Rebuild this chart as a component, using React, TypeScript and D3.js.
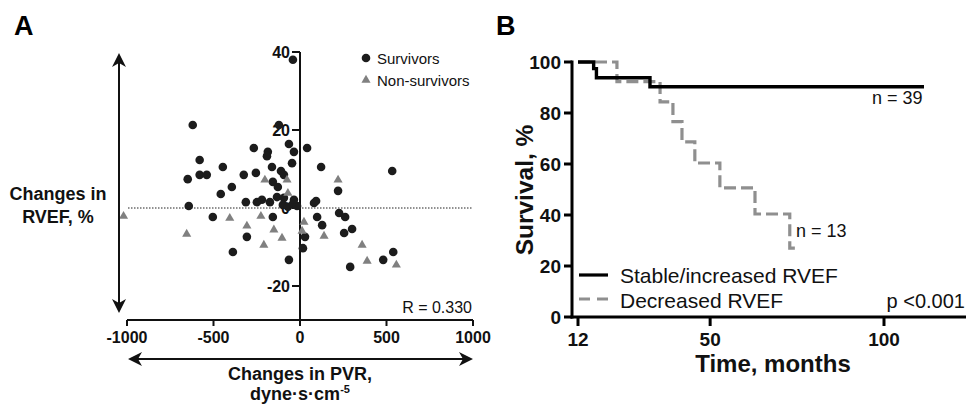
import React from 'react';
import * as d3 from 'd3';

// ---------- Panel A data ----------
const survivorsX = [-620, -122, -580, -649, -580, -539, -446, -267, -186, -191, -64, -35, 41, -46, 122, -162, -110, -93, -325, -255, -157, -128, -394, -458, -313, -249, -220, -174, -133, -93, -643, -504, -157, -307, -388, -64, 29, 17, 99, 128, 81, 93, 226, 261, 255, 301, 290, 481, 539, 533, 220, -41, -99, -70, -41, -17, -35];
const survivorsY = [21.3, 21.3, 12.3, 7.4, 8.5, 8.5, 10.5, 15.4, 14.4, 13.3, 16.4, 14.4, 15.4, 11.5, 10.5, 10.5, 9.5, 8.5, 8.5, 9.0, 6.7, 5.4, 5.4, 3.6, 1.5, 1.5, 2.1, 1.5, 2.8, 2.6, 0.5, -2.3, -2.3, -7.4, -11.3, -13.3, -7.4, -10.3, -2.3, -4.4, 1.3, 1.8, -1.3, -2.3, -6.4, -5.4, -15.1, -13.3, -11.3, 9.5, 4.4, 38.0, 0.8, 0.3, 1.0, 0.5, 2.1];
const nonSurvivorsX = [-1020, -655, -406, -307, -226, -151, -104, -209, -203, -75, -70, 23, 12, 139, 220, 359, 388, 557];
const nonSurvivorsY = [-2.1, -6.7, -2.6, -4.6, -2.1, -5.6, -7.7, -9.5, 7.2, 7.2, 3.8, -3.6, -5.9, -7.2, 7.2, -9.5, -13.6, -14.6];
const xTicksA = [-1000, -500, 0, 500, 1000];
const yTicksA = [-20, 0, 20, 40];
const correlationLabel = 'R = 0.330';

// ---------- Panel B data ----------
const stableTimes = [12, 16.5, 17.3, 32.7, 111.5];
const stableSurvival = [100, 97.4, 93.8, 90.3, 90.3];
const decreasedTimes = [12, 23.2, 35.6, 39.3, 41.9, 45.6, 52.8, 62.9, 72.9, 75.3];
const decreasedSurvival = [100, 92.3, 84.4, 76.6, 68.7, 60.4, 50.6, 40.4, 27.0, 27.0];
const xTicksB = [12, 50, 100];
const yTicksB = [0, 20, 40, 60, 80, 100];

const FONT = "'Liberation Sans', Arial, Helvetica, sans-serif";

export default function App() {
  // Panel A scales
  const xA = d3.scaleLinear().domain([-1000, 1000]).range([127, 473]);
  const yA = d3.scaleLinear().domain([-20, 40]).range([286, 52]);
  const axisYA = 320;
  const tri = d3.symbol().type(d3.symbolTriangle).size(36)() as string;

  // Panel B scales
  const xB = d3.scaleLinear().domain([12, 100]).range([578, 884]);
  const yB = d3.scaleLinear().domain([0, 100]).range([317, 62]);
  const line = d3
    .line<[number, number]>()
    .x((d) => xB(d[0]))
    .y((d) => yB(d[1]))
    .curve(d3.curveStepAfter);
  const stablePath = line(stableTimes.map((t, i) => [t, stableSurvival[i]])) as string;
  const decreasedPath = line(decreasedTimes.map((t, i) => [t, decreasedSurvival[i]])) as string;

  const survivors = survivorsX.map((x, i) => [x, survivorsY[i]]);
  const nonSurvivors = nonSurvivorsX.map((x, i) => [x, nonSurvivorsY[i]]);

  return (
    <svg
      width={966}
      height={404}
      style={{ position: 'absolute', left: 0, top: 0, background: '#fff' }}
      fontFamily={FONT}
    >
      {/* Panel labels */}
      <text x={14} y={35} fontSize={27} fontWeight="bold">A</text>
      <text x={496} y={35} fontSize={27} fontWeight="bold">B</text>

      {/* ---------------- Panel A ---------------- */}
      {/* zero reference dotted line */}
      <line x1={128} x2={473} y1={yA(0)} y2={yA(0)} stroke="#222" strokeWidth={1} strokeDasharray="1.5,1.5" />

      {/* x axis */}
      <line x1={xA(-1000)} x2={xA(1000)} y1={axisYA} y2={axisYA} stroke="#111" strokeWidth={2} />
      {xTicksA.map((t) => (
        <g key={'xa' + t}>
          <line x1={xA(t)} x2={xA(t)} y1={axisYA} y2={axisYA + 6} stroke="#111" strokeWidth={2} />
          <text x={xA(t)} y={axisYA + 23} textAnchor="middle" fontSize={16} fontWeight="bold" fill="#111">{t}</text>
        </g>
      ))}

      {/* y axis */}
      <line x1={xA(0)} x2={xA(0)} y1={yA(40)} y2={axisYA} stroke="#111" strokeWidth={2} />
      {yTicksA.map((t) => (
        <g key={'ya' + t}>
          <line x1={xA(0) - 8} x2={xA(0)} y1={yA(t)} y2={yA(t)} stroke="#111" strokeWidth={2} />
          <text x={xA(0) - 10} y={yA(t)} dy="0.36em" textAnchor="end" fontSize={16} fontWeight="bold" fill="#111">{t}</text>
        </g>
      ))}

      {/* points */}
      {survivors.map((d, i) => (
        <circle key={'s' + i} cx={xA(d[0])} cy={yA(d[1])} r={4.3} fill="#1c1c1c" />
      ))}
      {nonSurvivors.map((d, i) => (
        <path key={'n' + i} d={tri} transform={`translate(${xA(d[0])},${yA(d[1])})`} fill="#808080" />
      ))}

      {/* legend A */}
      <circle cx={366} cy={58} r={4.3} fill="#1c1c1c" />
      <text x={377} y={63.5} fontSize={15} fill="#111">Survivors</text>
      <path d={tri} transform="translate(366,80)" fill="#808080" />
      <text x={377} y={85.5} fontSize={15} fill="#111">Non-survivors</text>

      <text x={472} y={313} textAnchor="end" fontSize={16} fill="#111">{correlationLabel}</text>

      {/* vertical double arrow */}
      <line x1={119} x2={119} y1={60} y2={306} stroke="#111" strokeWidth={2} />
      <path d="M119,53 L112,67 L119,63 L126,67 Z" fill="#111" />
      <path d="M119,313 L112,299 L119,303 L126,299 Z" fill="#111" />
      {/* horizontal double arrow */}
      <line x1={135} x2={466} y1={359} y2={359} stroke="#111" strokeWidth={2} />
      <path d="M128,359 L142,352 L138,359 L142,366 Z" fill="#111" />
      <path d="M473,359 L459,352 L463,359 L459,366 Z" fill="#111" />

      {/* axis titles A */}
      <text x={58} y={200} textAnchor="middle" fontSize={18} fontWeight="bold" fill="#111">Changes in</text>
      <text x={58} y={223} textAnchor="middle" fontSize={18} fontWeight="bold" fill="#111">RVEF, %</text>
      <text x={300} y={380} textAnchor="middle" fontSize={18} fontWeight="bold" fill="#111">Changes in PVR,</text>
      <text x={300} y={400} textAnchor="middle" fontSize={18} fontWeight="bold" fill="#111">
        dyne·s·cm<tspan dy={-7} fontSize={11}>-5</tspan>
      </text>

      {/* ---------------- Panel B ---------------- */}
      <path d={decreasedPath} fill="none" stroke="#8f8f8f" strokeWidth={3.2} strokeDasharray="12,5" />
      <path d={stablePath} fill="none" stroke="#000" strokeWidth={3.4} />

      {/* axes B */}
      <line x1={572} x2={572} y1={yB(100) - 1.5} y2={yB(0) + 1.5} stroke="#000" strokeWidth={3} />
      <line x1={570.5} x2={966} y1={yB(0)} y2={yB(0)} stroke="#000" strokeWidth={3} />
      {yTicksB.map((t) => (
        <g key={'yb' + t}>
          <line x1={564} x2={572} y1={yB(t)} y2={yB(t)} stroke="#000" strokeWidth={3} />
          <text x={561} y={yB(t)} dy="0.36em" textAnchor="end" fontSize={19} fontWeight="bold" fill="#111">{t}</text>
        </g>
      ))}
      {xTicksB.map((t) => (
        <g key={'xb' + t}>
          <line x1={xB(t)} x2={xB(t)} y1={yB(0)} y2={yB(0) + 9} stroke="#000" strokeWidth={3} />
          <text x={xB(t)} y={345.5} textAnchor="middle" fontSize={19} fontWeight="bold" fill="#111">{t}</text>
        </g>
      ))}

      <text transform="translate(533,190) rotate(-90)" textAnchor="middle" fontSize={24.5} fontWeight="bold" fill="#111">Survival, %</text>
      <text x={773} y={372} textAnchor="middle" fontSize={24} fontWeight="bold" fill="#111">Time, months</text>

      <text x={872} y={104} fontSize={18} fill="#111">n = 39</text>
      <text x={796} y={237} fontSize={18} fill="#111">n = 13</text>

      {/* legend B */}
      <line x1={579} x2={608} y1={275} y2={275} stroke="#000" strokeWidth={3.2} />
      <text x={620} y={283} fontSize={21} fill="#111">Stable/increased RVEF</text>
      <line x1={579} x2={608} y1={299} y2={299} stroke="#8f8f8f" strokeWidth={3.2} strokeDasharray="11,7" />
      <text x={620} y={308} fontSize={21} fill="#111">Decreased RVEF</text>
      <text x={965} y={308} textAnchor="end" fontSize={20} fill="#111">p &lt;0.001</text>
    </svg>
  );
}
